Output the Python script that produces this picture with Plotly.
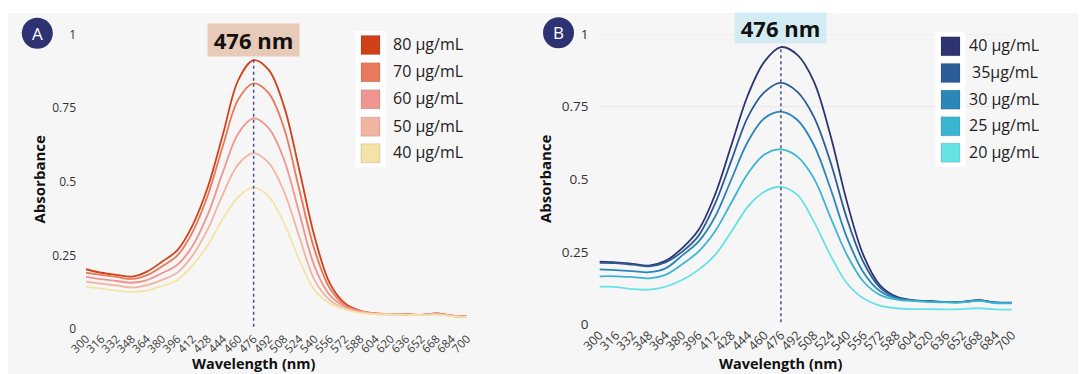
import plotly.graph_objects as go

W, H = 1082, 374

# Wavelength grid (nm) shared by both panels
wavelength = [300, 316, 332, 348, 364, 380, 396, 412, 428, 444, 460, 476, 492,
              508, 524, 540, 556, 572, 588, 604, 620, 636, 652, 668, 684, 700]
tick_labels = [str(w) for w in wavelength]
peak_nm = 476

# Panel A absorbance spectra
names_a = ["80 µg/mL", "70 µg/mL", "60 µg/mL", "50 µg/mL", "40 µg/mL"]
colors_a = ["#d0411a", "#e8795a", "#ee9590", "#f1b4a1", "#f4e3a6"]
abs_a_80 = [0.203, 0.191, 0.184, 0.178, 0.195, 0.229, 0.268, 0.353, 0.483, 0.664, 0.846, 0.913, 0.879,
            0.755, 0.540, 0.313, 0.155, 0.087, 0.062, 0.053, 0.051, 0.050, 0.048, 0.053, 0.045, 0.042]
abs_a_70 = [0.191, 0.184, 0.177, 0.170, 0.183, 0.213, 0.250, 0.330, 0.455, 0.625, 0.780, 0.834, 0.800,
            0.681, 0.472, 0.268, 0.138, 0.081, 0.061, 0.053, 0.051, 0.050, 0.048, 0.052, 0.045, 0.042]
abs_a_60 = [0.177, 0.169, 0.163, 0.157, 0.166, 0.190, 0.218, 0.283, 0.390, 0.535, 0.665, 0.715, 0.681,
            0.574, 0.393, 0.212, 0.115, 0.076, 0.059, 0.052, 0.050, 0.049, 0.048, 0.051, 0.045, 0.042]
abs_a_50 = [0.161, 0.154, 0.148, 0.141, 0.149, 0.167, 0.192, 0.250, 0.340, 0.460, 0.560, 0.597, 0.563,
            0.466, 0.313, 0.166, 0.098, 0.070, 0.057, 0.051, 0.050, 0.049, 0.047, 0.050, 0.044, 0.041]
abs_a_40 = [0.144, 0.137, 0.130, 0.126, 0.130, 0.146, 0.166, 0.217, 0.285, 0.376, 0.449, 0.481, 0.449,
            0.359, 0.234, 0.132, 0.087, 0.067, 0.055, 0.050, 0.049, 0.048, 0.047, 0.049, 0.044, 0.041]
series_a = [abs_a_80, abs_a_70, abs_a_60, abs_a_50, abs_a_40]

# Panel B absorbance spectra
names_b = ["40 µg/mL", "35µg/mL", "30 µg/mL", "25 µg/mL", "20 µg/mL"]
colors_b = ["#2e3470", "#2c5c96", "#2a87ba", "#3cb5d3", "#66e2e4"]
abs_b_40 = [0.216, 0.214, 0.209, 0.203, 0.219, 0.262, 0.325, 0.446, 0.618, 0.790, 0.905, 0.955, 0.928,
            0.836, 0.652, 0.423, 0.239, 0.136, 0.096, 0.084, 0.081, 0.078, 0.078, 0.084, 0.076, 0.075]
abs_b_35 = [0.212, 0.211, 0.206, 0.200, 0.214, 0.250, 0.305, 0.415, 0.565, 0.715, 0.800, 0.832, 0.801,
            0.715, 0.560, 0.365, 0.215, 0.128, 0.093, 0.083, 0.080, 0.077, 0.077, 0.083, 0.075, 0.074]
abs_b_30 = [0.190, 0.187, 0.184, 0.180, 0.193, 0.237, 0.285, 0.370, 0.500, 0.630, 0.710, 0.733, 0.704,
            0.618, 0.469, 0.300, 0.180, 0.115, 0.090, 0.082, 0.079, 0.077, 0.077, 0.082, 0.075, 0.074]
abs_b_25 = [0.166, 0.166, 0.163, 0.159, 0.171, 0.207, 0.251, 0.320, 0.420, 0.520, 0.585, 0.603, 0.578,
            0.503, 0.370, 0.240, 0.148, 0.102, 0.086, 0.081, 0.078, 0.076, 0.076, 0.081, 0.074, 0.073]
abs_b_20 = [0.130, 0.129, 0.122, 0.120, 0.130, 0.153, 0.188, 0.239, 0.320, 0.406, 0.457, 0.474, 0.446,
            0.354, 0.239, 0.142, 0.090, 0.065, 0.056, 0.053, 0.053, 0.052, 0.053, 0.056, 0.052, 0.051]
series_b = [abs_b_40, abs_b_35, abs_b_30, abs_b_25, abs_b_20]

y_ticks = [0, 0.25, 0.5, 0.75, 1]
y_ticktext = ["0", "0.25", "0.5", "0.75", "1"]

FONT = "Open Sans"
PANEL_BG = "#f6f6f6"


def fx(p):
    return p / W


def fy(p):
    return 1 - p / H


# plot areas in pixels: (left, right, top of y=1, bottom at y=0)
area_a = (86, 467, 34.5, 329)
area_b = (599.5, 1011.8, 34, 324.5)

fig = go.Figure()
for vals, name, col in zip(series_a, names_a, colors_a):
    fig.add_trace(go.Scatter(x=wavelength, y=vals, name=name, mode="lines",
                             line=dict(color=col, width=1.8, shape="spline"),
                             xaxis="x", yaxis="y", showlegend=False))
for vals, name, col in zip(series_b, names_b, colors_b):
    fig.add_trace(go.Scatter(x=wavelength, y=vals, name=name, mode="lines",
                             line=dict(color=col, width=1.8, shape="spline"),
                             xaxis="x2", yaxis="y2", showlegend=False))

shapes = []
annotations = []

# grey card behind both panels
shapes.append(dict(type="rect", xref="paper", yref="paper", x0=fx(8), x1=fx(1078), y0=-0.01, y1=fy(13),
                   fillcolor=PANEL_BG, line=dict(width=0), layer="below"))

# faint grid lines in panel B
for gv in (1, 0.75):
    shapes.append(dict(type="line", xref="x2", yref="y2", x0=wavelength[0], x1=wavelength[-1], y0=gv, y1=gv,
                       line=dict(color="#e8e8e8", width=1), layer="below"))

# dotted marker at the absorption maximum
for xr, yr, vals in (("x", "y", series_a[0]), ("x2", "y2", series_b[0])):
    top = vals[wavelength.index(peak_nm)]
    shapes.append(dict(type="line", xref=xr, yref=yr, x0=peak_nm, x1=peak_nm, y0=0.008, y1=top,
                       line=dict(color="#4b4f96", width=1.5, dash="dot")))


def add_legend(x_sq, y_rows, names, colors, text_x, text_dx=None):
    shapes.append(dict(type="rect", xref="paper", yref="paper", x0=fx(x_sq - 5.5), x1=fx(x_sq + 24.5),
                       y0=fy(y_rows[-1] + 14), y1=fy(y_rows[0] - 14),
                       fillcolor="white", line=dict(width=0)))
    for i, (yc, name, col) in enumerate(zip(y_rows, names, colors)):
        shapes.append(dict(type="rect", xref="paper", yref="paper", x0=fx(x_sq), x1=fx(x_sq + 19),
                           y0=fy(yc + 9.5), y1=fy(yc - 9.5), fillcolor=col,
                           line=dict(color="rgba(0,0,0,0.12)", width=1)))
        dx = text_dx[i] if text_dx else 0
        annotations.append(dict(xref="paper", yref="paper", x=fx(text_x + dx), y=fy(yc - 1),
                                text=name, showarrow=False, xanchor="left", yanchor="middle",
                                font=dict(family=FONT, size=16, color="#222222")))


add_legend(361, [45, 72.3, 99.3, 126.7, 153.3], names_a, colors_a, 391)
add_legend(941, [46.3, 73, 99.7, 126.3, 152.7], names_b, colors_b, 967, [0, 2.5, 0, 0, 0])

# panel badges
for cx, cy, letter in ((37.3, 33.2, "A"), (558.5, 32.8, "B")):
    shapes.append(dict(type="circle", xref="paper", yref="paper", x0=fx(cx - 15.5), x1=fx(cx + 15.5),
                       y0=fy(cy + 15.5), y1=fy(cy - 15.5), fillcolor="#2d3372", line=dict(width=0)))
    annotations.append(dict(xref="paper", yref="paper", x=fx(cx), y=fy(cy), text=letter, showarrow=False,
                            xanchor="center", yanchor="middle",
                            font=dict(family=FONT, size=17, color="white")))

# peak labels
for xr, cy, hgt, bg in (("x", 39.6, 32, "#e8cab8"), ("x2", 28.5, 30, "#d3ecf4")):
    annotations.append(dict(xref=xr, yref="paper", x=peak_nm, y=fy(cy), text="<b>476 nm</b>",
                            showarrow=False, xanchor="center", yanchor="middle", bgcolor=bg,
                            width=91, height=hgt, borderpad=0,
                            font=dict(family=FONT, size=22, color="#111111")))

# axis titles
for cx, cy in ((38.5, 179), (545, 179)):
    annotations.append(dict(xref="paper", yref="paper", x=fx(cx), y=fy(cy), text="<b>Absorbance</b>",
                            showarrow=False, textangle=-90, xanchor="center", yanchor="middle",
                            font=dict(family=FONT, size=15, color="#111111")))
for xr in ("x", "x2"):
    annotations.append(dict(xref=xr, yref="paper", x=peak_nm, y=fy(374), text="<b>Wavelength (nm)</b>",
                            showarrow=False, xanchor="center", yanchor="bottom", borderpad=0,
                            font=dict(family=FONT, size=14.5, color="#111111")))


def x_axis(domain, anchor, size):
    return dict(domain=domain, anchor=anchor, range=[wavelength[0], wavelength[-1]], tickmode="array",
                tickvals=wavelength, ticktext=tick_labels, tickangle=-45, showgrid=False, zeroline=False,
                showline=False, ticks="", automargin=False,
                tickfont=dict(family=FONT, size=size, color="#3a3a3a"), fixedrange=True)


def y_axis(domain, anchor, size, standoff):
    return dict(domain=domain, anchor=anchor, range=[0, 1], tickmode="array", tickvals=y_ticks,
                ticktext=y_ticktext, showgrid=False, zeroline=False, showline=False, ticks="",
                automargin=False, ticklabelstandoff=standoff,
                tickfont=dict(family=FONT, size=size, color="#333333"), fixedrange=True)


fig.update_layout(
    width=W, height=H, margin=dict(l=0, r=0, t=0, b=0),
    paper_bgcolor="white", plot_bgcolor="rgba(0,0,0,0)",
    xaxis=x_axis([fx(area_a[0]), fx(area_a[1])], "y", 11.5),
    yaxis=y_axis([fy(area_a[3]), fy(area_a[2])], "x", 12, 9),
    xaxis2=x_axis([fx(area_b[0]), fx(area_b[1])], "y2", 12.5),
    yaxis2=y_axis([fy(area_b[3]), fy(area_b[2])], "x2", 13.5, 10),
    shapes=shapes, annotations=annotations, showlegend=False,
)

fig.write_html("out.html")
